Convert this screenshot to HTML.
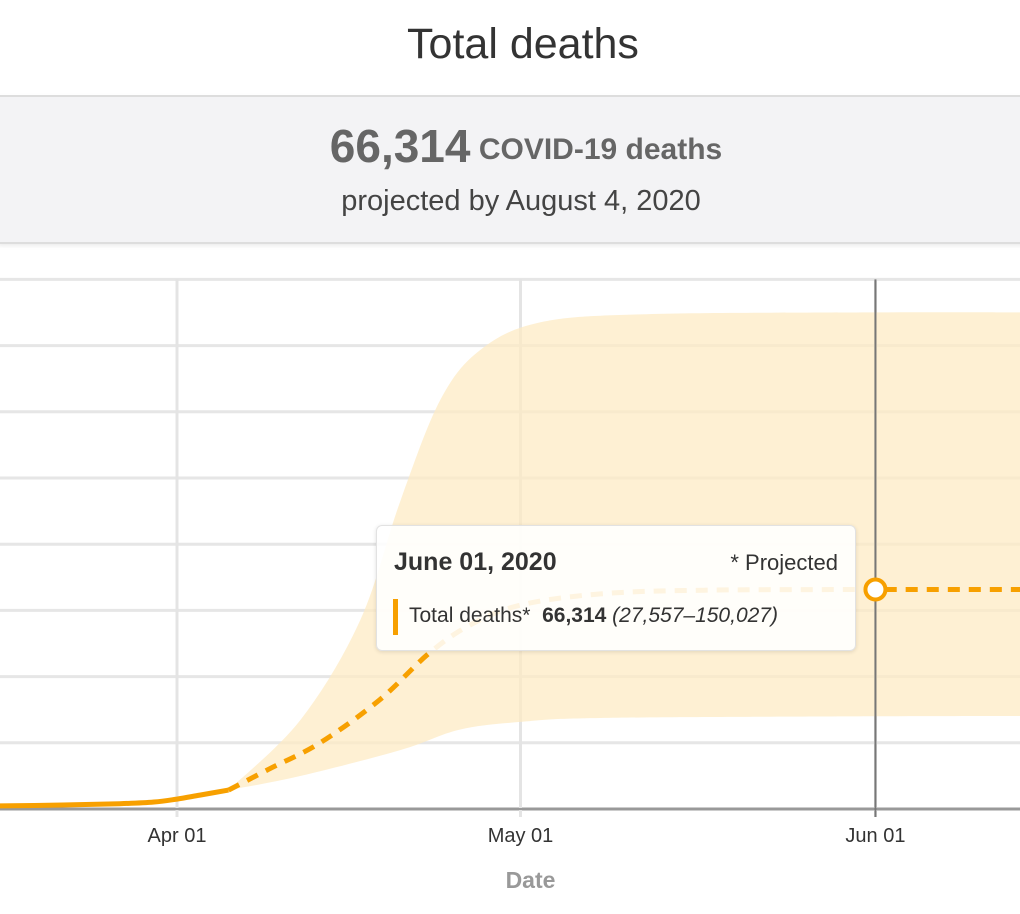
<!DOCTYPE html>
<html><head><meta charset="utf-8"><style>
body{margin:0;width:1020px;height:914px;background:#fff;font-family:"Liberation Sans",sans-serif;overflow:hidden;position:relative}
#title{position:absolute;top:20px;left:0;width:1046px;text-align:center;font-size:43px;color:#333}
#summary{position:absolute;top:95px;left:-2px;width:1030px;height:145px;background:#f3f3f5;border-top:2px solid #ddd;border-bottom:2px solid #ddd;box-shadow:0 2px 4px rgba(0,0,0,.08)}
#big{position:absolute;top:22px;left:0;width:1056px;text-align:center;color:#666;font-weight:bold;font-size:30px}
#big span{font-size:46px;vertical-align:-3px}
#sub{position:absolute;top:88px;left:0;width:1046px;text-align:center;color:#444;font-size:29px}
svg{position:absolute;left:0;top:0}
#tip{position:absolute;left:376px;top:525px;width:478px;height:124px;background:rgba(255,255,255,.88);border:1px solid #e2e2e2;border-radius:6px;box-shadow:0 1px 4px rgba(0,0,0,.12)}
</style></head><body>
<div id="title">Total deaths</div>
<div id="summary">
<div id="big"><span>66,314</span> COVID-19 deaths</div>
<div id="sub">projected by August 4, 2020</div>
</div>
<svg id="chart" width="1020" height="914"></svg>
<div id="tip">
<div style="position:absolute;left:17px;top:22px;font-size:25px;font-weight:bold;color:#333">June 01, 2020</div>
<div style="position:absolute;right:17px;top:24px;font-size:22px;color:#333">* Projected</div>
<div style="position:absolute;left:16px;top:73px;width:5px;height:36px;background:#f7a000"></div>
<div style="position:absolute;left:32px;top:78px;font-size:21px;color:#333;white-space:nowrap">Total deaths*&nbsp; <b>66,314</b> <i>(27,557–150,027)</i></div>
</div>
<script>
const actualDays=[-16,-10,-5,-2,0,2,4.5];
const actualVals=[900,1200,1600,2100,3000,4200,5700];
const projDays=[4.5,8,12.5,17.7,22,25.6,30,37,46,61,75];
const projVals=[5700,12000,20000,33000,47000,55600,61600,65000,66100,66314,66314];
const upperDays=[4.5,10.8,16,19.5,23,26.5,31.7,41,61,75];
const upperVals=[5700,27000,57000,93000,123600,138700,147000,149500,150027,150027];
const lowerDays=[4.5,10.8,19.5,24.7,30,37,61,75];
const lowerVals=[5700,10000,17800,24000,26300,27500,28000,28100];
const yTicks=[0,20000,40000,60000,80000,100000,120000,140000,160000];
const xTickDays=[0,30,61];
const xTickLabels=['Apr 01','May 01','Jun 01'];
const hoverDay=61, hoverVal=66314;
const X=d=>177+d*11.45, Y=v=>809-v/20000*66.2;
const svg=document.getElementById('chart'),NS='http://www.w3.org/2000/svg';
function mk(t,a){const e=document.createElementNS(NS,t);for(const k in a)e.setAttribute(k,a[k]);svg.appendChild(e);return e;}
function smooth(ds,vs){const p=ds.map((d,i)=>[X(d),Y(vs[i])]);let s='M'+p[0][0].toFixed(1)+','+p[0][1].toFixed(1);
for(let i=0;i<p.length-1;i++){const a=p[Math.max(i-1,0)],b=p[i],c=p[i+1],d=p[Math.min(i+2,p.length-1)];
const c1=[b[0]+(c[0]-a[0])/6,b[1]+(c[1]-a[1])/6],c2=[c[0]-(d[0]-b[0])/6,c[1]-(d[1]-b[1])/6];
s+=` C${c1[0].toFixed(1)},${c1[1].toFixed(1)} ${c2[0].toFixed(1)},${c2[1].toFixed(1)} ${c[0].toFixed(1)},${c[1].toFixed(1)}`;}return s;}
yTicks.forEach((v,i)=>{const l=mk('line',{x1:0,x2:1020,y1:Y(v),y2:Y(v),stroke:i==0?'#999':'#e6e6e6','stroke-width':3});
});
xTickDays.forEach((d,i)=>{const l=mk('line',{x1:X(d),x2:X(d),y1:Y(160000),y2:Y(0)+8,stroke:'#e4e4e4','stroke-width':3});

const t=mk('text',{x:X(d),y:842,'text-anchor':'middle','font-size':20,fill:'#333'});t.textContent=xTickLabels[i];
});
const band=mk('path',{d:smooth(upperDays,upperVals)+' L'+smooth(lowerDays.slice().reverse(),lowerVals.slice().reverse()).slice(1)+'Z',fill:'#fdebc4',opacity:.75});

const xa=mk('line',{x1:0,x2:1020,y1:Y(0),y2:Y(0),stroke:'#999','stroke-width':2});

const hl=mk('line',{x1:X(hoverDay),x2:X(hoverDay),y1:Y(160000),y2:Y(0)+8,stroke:'#777','stroke-width':2});

const al=mk('path',{d:smooth(actualDays,actualVals),fill:'none',stroke:'#f7a000','stroke-width':5});

const pl=mk('path',{d:smooth(projDays,projVals),fill:'none',stroke:'#f7a000','stroke-width':5,'stroke-dasharray':'12 9'});

const pt=mk('circle',{cx:X(hoverDay),cy:Y(hoverVal),r:10,fill:'#fff',stroke:'#f7a000','stroke-width':4});

const xt=mk('text',{x:X(30)+10,y:888,'text-anchor':'middle','font-size':23,'font-weight':'bold',fill:'#999'});xt.textContent='Date';

</script>
</body></html>
